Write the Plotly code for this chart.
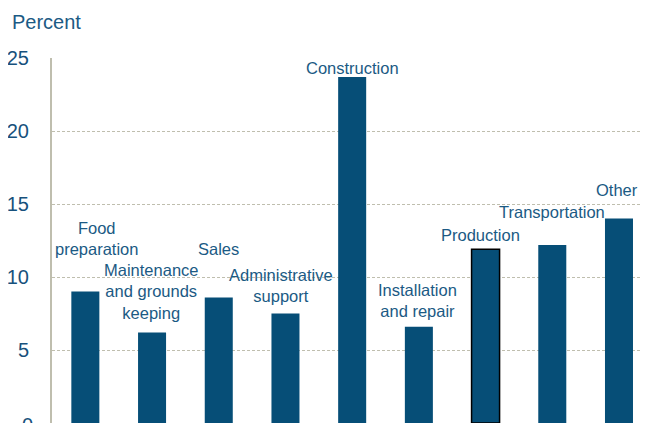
import plotly.graph_objects as go

categories = ["Food preparation", "Maintenance and grounds keeping", "Sales",
              "Administrative support", "Construction", "Installation and repair",
              "Production", "Transportation", "Other"]
label_texts = ["Food<br>preparation", "Maintenance<br>and grounds<br>keeping", "Sales",
               "Administrative<br>support", "Construction", "Installation<br>and repair",
               "Production", "Transportation", "Other"]
values = [9.0, 6.2, 8.6, 7.5, 23.7, 6.6, 11.9, 12.2, 14.0]
y_ticks = [0, 5, 10, 15, 20, 25]

# label placement offsets (pixels) relative to bar top
label_xshift = [11, -1.5, 0, -4, 0, -1, -5.5, 0, -1.5]
label_yshift = [53.5, 41.3, 48, 28, 8.7, 26.3, 14.3, 33.3, 28.3]

BAR = "#064E77"
TXT = "#1B5A84"
TICK = "#17517C"
GRID = "#BFBEAE"
FONT = "Liberation Sans, Arial, sans-serif"

x_idx = list(range(len(categories)))
line_w = [1.5 if c == "Production" else 0 for c in categories]
line_c = ["#000000" if c == "Production" else BAR for c in categories]

fig = go.Figure(go.Bar(
    x=x_idx, y=values, width=0.42,
    marker=dict(color=BAR, line=dict(width=line_w, color=line_c)),
    hovertext=categories,
))

annotations = []
for i, (t, v) in enumerate(zip(label_texts, values)):
    annotations.append(dict(
        x=i, y=v, xref="x", yref="y", text=t, showarrow=False,
        xanchor="center", yanchor="middle", align="center",
        xshift=label_xshift[i], yshift=label_yshift[i],
        font=dict(family=FONT, size=16.5, color=TXT),
    ))
annotations.append(dict(
    x=0, y=1, xref="paper", yref="paper", text="Percent", showarrow=False,
    xanchor="left", yanchor="middle", xshift=-42, yshift=36,
    font=dict(family=FONT, size=20, color=TXT),
))
# bottom tick label sits on the figure edge (partly cut off), drawn explicitly
annotations.append(dict(
    x=0, y=y_ticks[0], xref="paper", yref="y", text=str(y_ticks[0]), showarrow=False,
    xanchor="right", yanchor="middle", xshift=-17, yshift=-2,
    font=dict(family=FONT, size=20, color=TICK),
))

# page body has an 8px default margin, so the figure is sized to fill the rest
fig.update_layout(
    width=641, height=415,
    margin=dict(l=44, r=0, t=50, b=0, pad=0),
    paper_bgcolor="white", plot_bgcolor="white",
    showlegend=False,
    annotations=annotations,
    xaxis=dict(range=[-0.5, 8.45], showticklabels=False, showgrid=False,
               zeroline=False, showline=False, ticks=""),
    yaxis=dict(range=[0, 25], tickvals=y_ticks[1:], ticktext=[str(v) for v in y_ticks[1:]],
               showgrid=True, gridcolor=GRID, griddash="3px,2px", gridwidth=1,
               zeroline=False, showline=True, linecolor=GRID, linewidth=2,
               ticks="", ticklabelstandoff=17,
               tickfont=dict(family=FONT, size=20, color=TICK)),
)

fig.write_html("out.html")
